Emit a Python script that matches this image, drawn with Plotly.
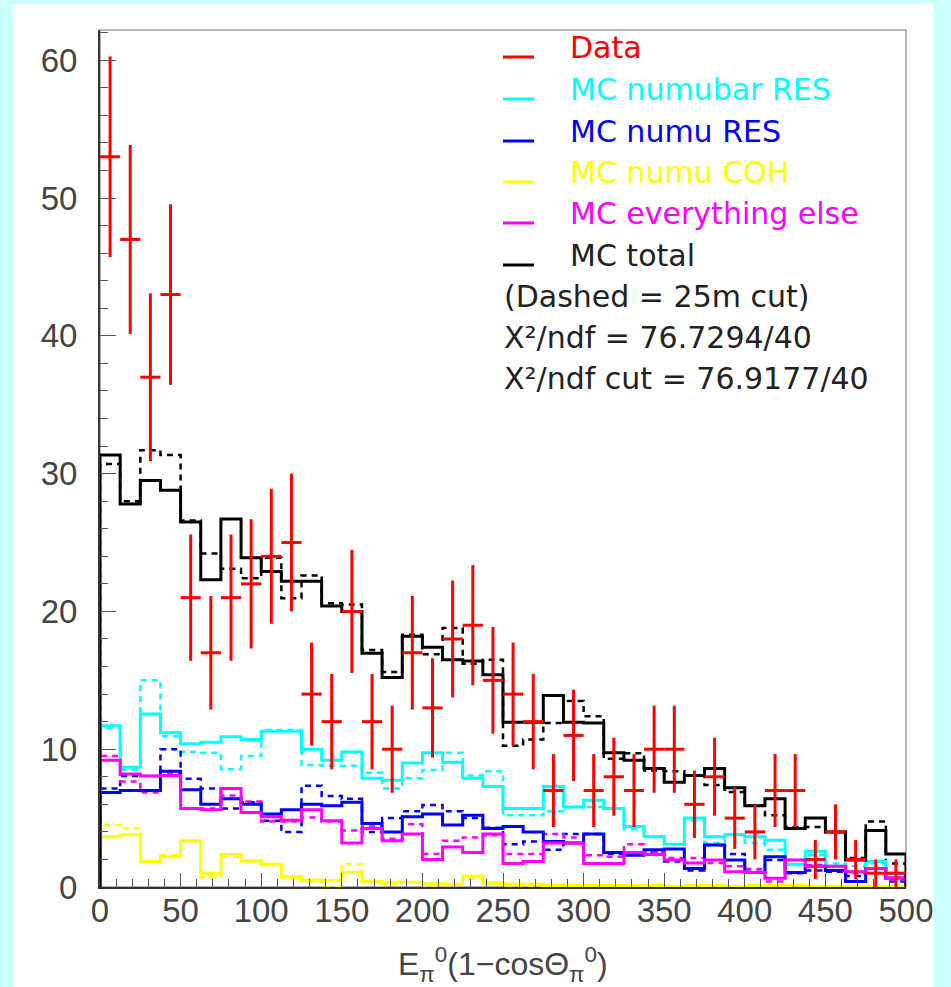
import plotly.graph_objects as go

# ---------------- data (40 bins of width 12.5 from 0 to 500) ----------------
bin_lo = 0.0
bin_w = 12.5
n_bins = 40

data_counts = [53, 47, 37, 43, 21, 17, 21, 22, 24, 25, 14, 12, 20, 12, 10, 17, 13, 18, 19, 15,
               14, 12, 7, 11, 7, 8, 7, 10, 10, 6, 8, 5, 4, 7, 7, 2, 4, 2, 1, 1]

mc_total = [31.35, 27.8, 29.5, 28.8, 26.5, 22.3, 26.7, 23.9, 22.9, 22.2, 22.2, 20.4, 20.0, 16.96, 15.2,
            18.2, 17.4, 16.5, 16.4, 15.4, 11.95, 11.95, 13.9, 11.95, 11.9, 9.75, 9.2, 8.6, 7.6, 8.1,
            8.6, 7.2, 5.9, 6.4, 4.25, 5.0, 4.0, 1.96, 4.1, 2.4]
mc_total_cut = [30.7, 28.0, 31.7, 31.35, 26.6, 24.2, 23.1, 22.4, 23.9, 20.95, 22.6, 20.6, 20.5, 17.2, 15.6,
                18.3, 16.9, 18.8, 16.2, 16.5, 10.25, 10.7, 11.9, 13.5, 12.4, 9.3, 9.7, 8.45, 8.4, 8.1,
                7.4, 6.9, 5.9, 5.2, 4.35, 4.35, 4.0, 2.1, 4.75, 1.7]

numubar_res = [11.7, 8.7, 12.55, 11.2, 10.4, 10.5, 10.9, 10.7, 11.3, 11.3, 10.0, 9.2, 9.8, 7.9, 7.75,
               9.0, 9.75, 9.05, 7.9, 7.3, 5.7, 5.7, 7.3, 5.8, 6.3, 5.7, 4.4, 3.65, 3.1, 5.0,
               3.65, 3.8, 3.65, 3.4, 1.65, 2.6, 1.5, 1.1, 1.85, 1.0]
numubar_res_cut = [11.5, 8.5, 15.0, 10.95, 9.8, 9.75, 8.55, 9.5, 11.4, 11.4, 8.85, 8.8, 8.8, 8.3, 7.15,
                   7.9, 8.5, 9.75, 8.1, 8.4, 5.2, 5.2, 5.5, 5.8, 5.8, 5.7, 4.2, 3.65, 3.1, 4.8,
                   3.2, 3.8, 3.2, 2.7, 1.6, 2.3, 1.7, 1.5, 1.7, 1.0]

numu_res = [6.85, 7.0, 7.0, 8.4, 7.05, 6.0, 6.4, 6.0, 5.3, 5.6, 6.0, 5.9, 6.15, 4.6, 4.0,
            5.1, 5.3, 4.5, 5.2, 4.25, 4.4, 4.0, 3.3, 3.2, 3.85, 2.5, 2.3, 2.7, 2.75, 1.35,
            3.05, 1.96, 1.05, 2.2, 1.05, 1.5, 1.2, 0.4, 1.35, 0.65]
numu_res_cut = [7.15, 8.05, 8.05, 10.0, 7.85, 7.15, 5.7, 6.15, 4.8, 4.0, 7.35, 6.6, 6.4, 4.0, 5.0,
                5.5, 5.95, 5.5, 5.0, 4.3, 3.1, 3.3, 2.7, 3.85, 3.85, 2.4, 2.5, 2.5, 1.85, 1.2,
                3.05, 2.4, 1.1, 1.96, 1.0, 1.2, 1.1, 0.8, 1.35, 0.4]

numu_coh = [3.65, 3.8, 1.85, 2.2, 3.35, 1.0, 2.35, 1.9, 1.65, 0.75, 0.5, 0.45, 1.05, 0.4, 0.35,
            0.35, 0.25, 0.2, 0.8, 0.3, 0.22, 0.2, 0.1, 0.13, 0.1, 0.1, 0.08, 0.1, 0.05, 0.1,
            0.1, 0.05, 0.1, 0.1, 0.15, 0.05, 0.05, 0.05, 0.05, 0.05]
numu_coh_cut = [4.5, 4.25, 1.85, 2.3, 3.3, 0.7, 2.2, 1.85, 1.6, 0.65, 0.4, 0.02, 1.65, 0.3, 0.2,
                0.3, 0.1, 0.15, 0.6, 0.2, 0.1, 0.1, 0.05, 0.1, 0.1, 0.05, 0.1, 0.05, 0.05, 0.1,
                0.05, 0.05, 0.1, 0.1, 0.1, 0.05, 0.05, 0.05, 0.05, 0.05]

everything_else = [9.2, 8.2, 8.05, 8.1, 5.7, 5.6, 7.15, 5.4, 5.1, 4.85, 5.6, 4.8, 3.2, 4.25, 3.35,
                   3.85, 2.0, 2.9, 2.5, 3.85, 1.7, 1.85, 3.2, 3.2, 1.7, 1.7, 2.5, 2.35, 1.96, 1.75,
                   1.96, 1.1, 1.05, 0.63, 1.96, 1.5, 1.5, 1.1, 1.35, 0.65]
everything_else_cut = [9.5, 7.65, 6.85, 8.2, 5.7, 5.7, 6.65, 6.2, 4.75, 4.75, 5.05, 4.75, 4.1, 4.4, 3.5,
                       4.55, 2.4, 3.35, 3.6, 3.75, 2.4, 2.4, 3.85, 3.6, 2.3, 2.2, 3.1, 2.5, 2.1, 2.1,
                       1.75, 1.5, 1.3, 0.4, 1.96, 1.6, 1.5, 1.0, 1.35, 0.5]

legend_labels = ["Data", "MC numubar RES", "MC numu RES", "MC numu COH", "MC everything else", "MC total"]
legend_colors = ["#ff0000", "#00ffff", "#0000ff", "#ffff00", "#ff00ff", "#000000"]
extra_lines = ["(Dashed = 25m cut)", "X\u00b2/ndf = 76.7294/40", "X\u00b2/ndf cut = 76.9177/40"]

x_title = "E<sub>\u03c0</sub><sup>0</sup>(1\u2212cos\u0398<sub>\u03c0</sub><sup>0</sup>)"

# ---------------- helpers ----------------
edges = [bin_lo + i * bin_w for i in range(n_bins + 1)]
centers = [bin_lo + (i + 0.5) * bin_w for i in range(n_bins)]


def step_xy(vals):
    xs = [edges[0]] + edges[:-1] + [edges[-1], edges[-1]]
    ys = [0] + list(vals) + [vals[-1], 0]
    return xs, ys


W, H = 951, 987
L, R, T, B = 100, 906, 30, 887


def px_x(p):
    return (p - L) / (R - L)


def px_y(p):
    return (B - p) / (B - T)


fig = go.Figure()

series = [
    (numubar_res, numubar_res_cut, "#00ffff"),
    (numu_res, numu_res_cut, "#0000ff"),
    (numu_coh, numu_coh_cut, "#ffff00"),
    (everything_else, everything_else_cut, "#ff00ff"),
    (mc_total, mc_total_cut, "#000000"),
]

for solid, dashed, col in series:
    xs, ys = step_xy(dashed)
    fig.add_trace(go.Scatter(x=xs, y=ys, mode="lines", line=dict(color=col, width=2.5, dash="6px,5px", shape="hv"),
                             showlegend=False, hoverinfo="skip"))
for solid, dashed, col in series:
    xs, ys = step_xy(solid)
    fig.add_trace(go.Scatter(x=xs, y=ys, mode="lines", line=dict(color=col, width=3, shape="hv"),
                             showlegend=False, hoverinfo="skip"))

fig.add_trace(go.Scatter(
    x=centers, y=data_counts, mode="markers",
    marker=dict(size=1, color="rgba(0,0,0,0)"),
    error_x=dict(type="constant", value=bin_w / 2, color="#ff0000", thickness=3, width=0),
    error_y=dict(type="sqrt", color="#ff0000", thickness=3, width=0),
    showlegend=False,
))

shapes = []
# white panel inside the light cyan frame
shapes.append(dict(type="rect", xref="paper", yref="paper", x0=px_x(13), x1=px_x(934), y0=px_y(990), y1=px_y(4),
                   fillcolor="white", line=dict(width=0), layer="below"))
# plot frame
shapes.append(dict(type="rect", xref="paper", yref="paper", x0=0, x1=1, y0=0, y1=1,
                   line=dict(color="#a0a0a0", width=1.5), layer="below"))

annotations = []
row_y = [47, 89, 131, 172, 213, 255]
for lab, col, ry in zip(legend_labels, legend_colors, row_y):
    shapes.append(dict(type="line", xref="paper", yref="paper", x0=px_x(503), x1=px_x(534),
                       y0=px_y(ry + 10), y1=px_y(ry + 10), line=dict(color=col, width=3)))
    annotations.append(dict(text=lab, xref="paper", yref="paper", x=px_x(568), y=px_y(ry),
                            xanchor="left", yanchor="middle", showarrow=False,
                            font=dict(family="DejaVu Sans", size=30,
                                      color=(col if col != "#000000" else "#222222"))))
for txt, ry in zip(extra_lines, [296, 337, 378]):
    annotations.append(dict(text=txt, xref="paper", yref="paper", x=px_x(502), y=px_y(ry),
                            xanchor="left", yanchor="middle", showarrow=False,
                            font=dict(family="DejaVu Sans", size=30, color="#222222")))

annotations.append(dict(text=x_title, xref="paper", yref="paper", x=0.5, y=px_y(964),
                        xanchor="center", yanchor="middle", showarrow=False,
                        font=dict(family="Liberation Sans", size=32, color="#444444")))

fig.update_layout(
    width=W, height=H,
    margin=dict(l=L, r=W - R, t=T, b=H - B, pad=0),
    paper_bgcolor="#ccffff",
    plot_bgcolor="white",
    showlegend=False,
    shapes=shapes,
    annotations=annotations,
)

fig.update_xaxes(
    range=[0, 500], dtick=50, tick0=0, ticks="inside", ticklen=14, tickwidth=1.2, tickcolor="#555555",
    minor=dict(dtick=10, ticks="inside", ticklen=8, tickcolor="#555555", tickwidth=1),
    showline=True, linecolor="#333333", linewidth=2, showgrid=False, zeroline=False,
    tickfont=dict(family="Liberation Sans", size=33, color="#444444"), ticklabelstandoff=-7,
)
fig.update_yaxes(
    range=[0, 62.2], dtick=10, tick0=0, ticks="inside", ticklen=16, tickwidth=1.2, tickcolor="#555555",
    minor=dict(dtick=2, ticks="inside", ticklen=8, tickcolor="#555555", tickwidth=1),
    showline=True, linecolor="#333333", linewidth=2, showgrid=False, zeroline=False,
    tickfont=dict(family="Liberation Sans", size=33, color="#444444"), ticklabelstandoff=14,
)

fig.write_html("out.html")
